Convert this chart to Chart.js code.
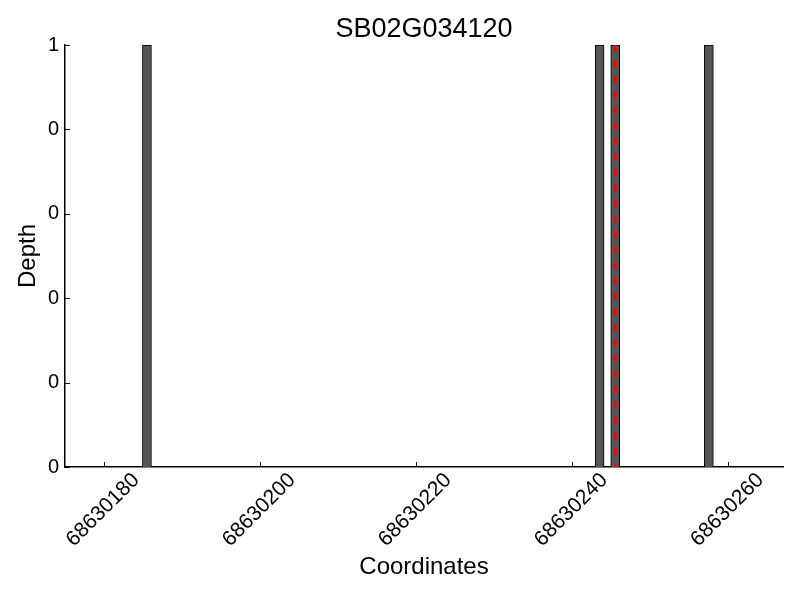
<!DOCTYPE html>
<html>
<head>
<meta charset="utf-8">
<script src="https://cdn.jsdelivr.net/npm/chart.js@4.4.1/dist/chart.umd.min.js"></script>
<style>
  html, body { margin: 0; padding: 0; background: #fff; }
</style>
</head>
<body>
<canvas id="grafico-depth" width="800" height="600"></canvas>
<script>
// --------------- DATI ---------------------
var titolo = "SB02G034120";
var posizioni = [68630185.5, 68630243.5, 68630245.5, 68630257.5]; // centri barre
var profondita = [1, 1, 1, 1];
var lineaRossa = 68630245.5;
var xTicks = [68630180, 68630200, 68630220, 68630240, 68630260];
var yTicks = [0, 0.2, 0.4, 0.6, 0.8, 1];
var yTickLabels = ["0", "0", "0", "0", "0", "1"];
var xMin = 68630175, xMax = 68630267;

var font = "'Liberation Sans', Arial, sans-serif";

var barre = [];
for (var i = 0; i < posizioni.length; i++) {
    barre.push({ x: posizioni[i], y: profondita[i] });
}

// titolo centrato sull'area, tacche interne, etichette x ruotate e centrate
var pluginExtra = {
    id: 'extra',
    afterDraw: function(chart) {
        var ctx = chart.ctx;
        var area = chart.chartArea;
        var sx = chart.scales.x, sy = chart.scales.y;
        ctx.save();
        ctx.strokeStyle = '#000';
        ctx.lineWidth = 1;
        for (var i = 0; i < xTicks.length; i++) {
            var px = Math.round(sx.getPixelForValue(xTicks[i])) + 0.5;
            ctx.beginPath();
            ctx.moveTo(px, area.bottom);
            ctx.lineTo(px, area.bottom - 5);
            ctx.stroke();
        }
        for (var j = 0; j < yTicks.length; j++) {
            var py = Math.round(sy.getPixelForValue(yTicks[j])) + 0.5;
            ctx.beginPath();
            ctx.moveTo(area.left, py);
            ctx.lineTo(area.left + 5, py);
            ctx.stroke();
        }
        ctx.fillStyle = '#000';
        ctx.textAlign = 'center';
        ctx.textBaseline = 'middle';
        ctx.font = "21px " + font;
        for (var k = 0; k < xTicks.length; k++) {
            ctx.save();
            ctx.translate(sx.getPixelForValue(xTicks[k]) - 1, area.bottom + 43);
            ctx.rotate(-Math.PI / 4);
            ctx.fillText(String(xTicks[k]), 0, 0);
            ctx.restore();
        }
        ctx.font = "27px " + font;
        ctx.fillText(titolo, (area.left + area.right) / 2, 30);
        ctx.restore();
    }
};

var ctx = document.getElementById('grafico-depth');
var chart = new Chart(ctx, {
    type: 'bar',
    data: {
        datasets: [{
            type: 'line',
            data: [{ x: lineaRossa, y: 1 }, { x: lineaRossa, y: 0 }],
            borderColor: '#ff0000',
            borderWidth: 2.5,
            borderDash: [7, 8.5],
            pointRadius: 0,
            order: 0
        }, {
            data: barre,
            backgroundColor: '#555555',
            borderColor: '#000000',
            borderWidth: 1,
            barThickness: 9,
            order: 1
        }]
    },
    options: {
        responsive: false,
        animation: false,
        devicePixelRatio: 1,
        layout: { padding: { top: 45, right: 17, left: 0, bottom: 0 } },
        plugins: {
            legend: { display: false },
            tooltip: { enabled: false }
        },
        scales: {
            x: {
                type: 'linear',
                offset: false,
                min: xMin,
                max: xMax,
                grid: { display: false, offset: false },
                border: { display: true, color: '#000', width: 1.5 },
                afterBuildTicks: function(scale) {
                    scale.ticks = xTicks.map(function(v) { return { value: v }; });
                },
                afterFit: function(scale) { scale.height = 133; },
                ticks: { display: false },
                title: {
                    display: true,
                    text: 'Coordinates',
                    color: '#000',
                    font: { family: font, size: 24 },
                    padding: { top: 0, bottom: 18 }
                }
            },
            y: {
                min: 0,
                max: 1,
                grid: { display: false, tickLength: 0 },
                border: { display: true, color: '#000', width: 1.5 },
                afterBuildTicks: function(scale) {
                    scale.ticks = yTicks.map(function(v) { return { value: v }; });
                },
                afterFit: function(scale) { scale.width = 65; },
                ticks: {
                    color: '#000',
                    font: { family: font, size: 20 },
                    padding: 6,
                    callback: function(v, idx) { return yTickLabels[idx]; }
                },
                title: {
                    display: true,
                    text: 'Depth',
                    color: '#000',
                    font: { family: font, size: 24 },
                    padding: { top: 14, bottom: 0 }
                }
            }
        }
    },
    plugins: [pluginExtra]
});
</script>
</body>
</html>
